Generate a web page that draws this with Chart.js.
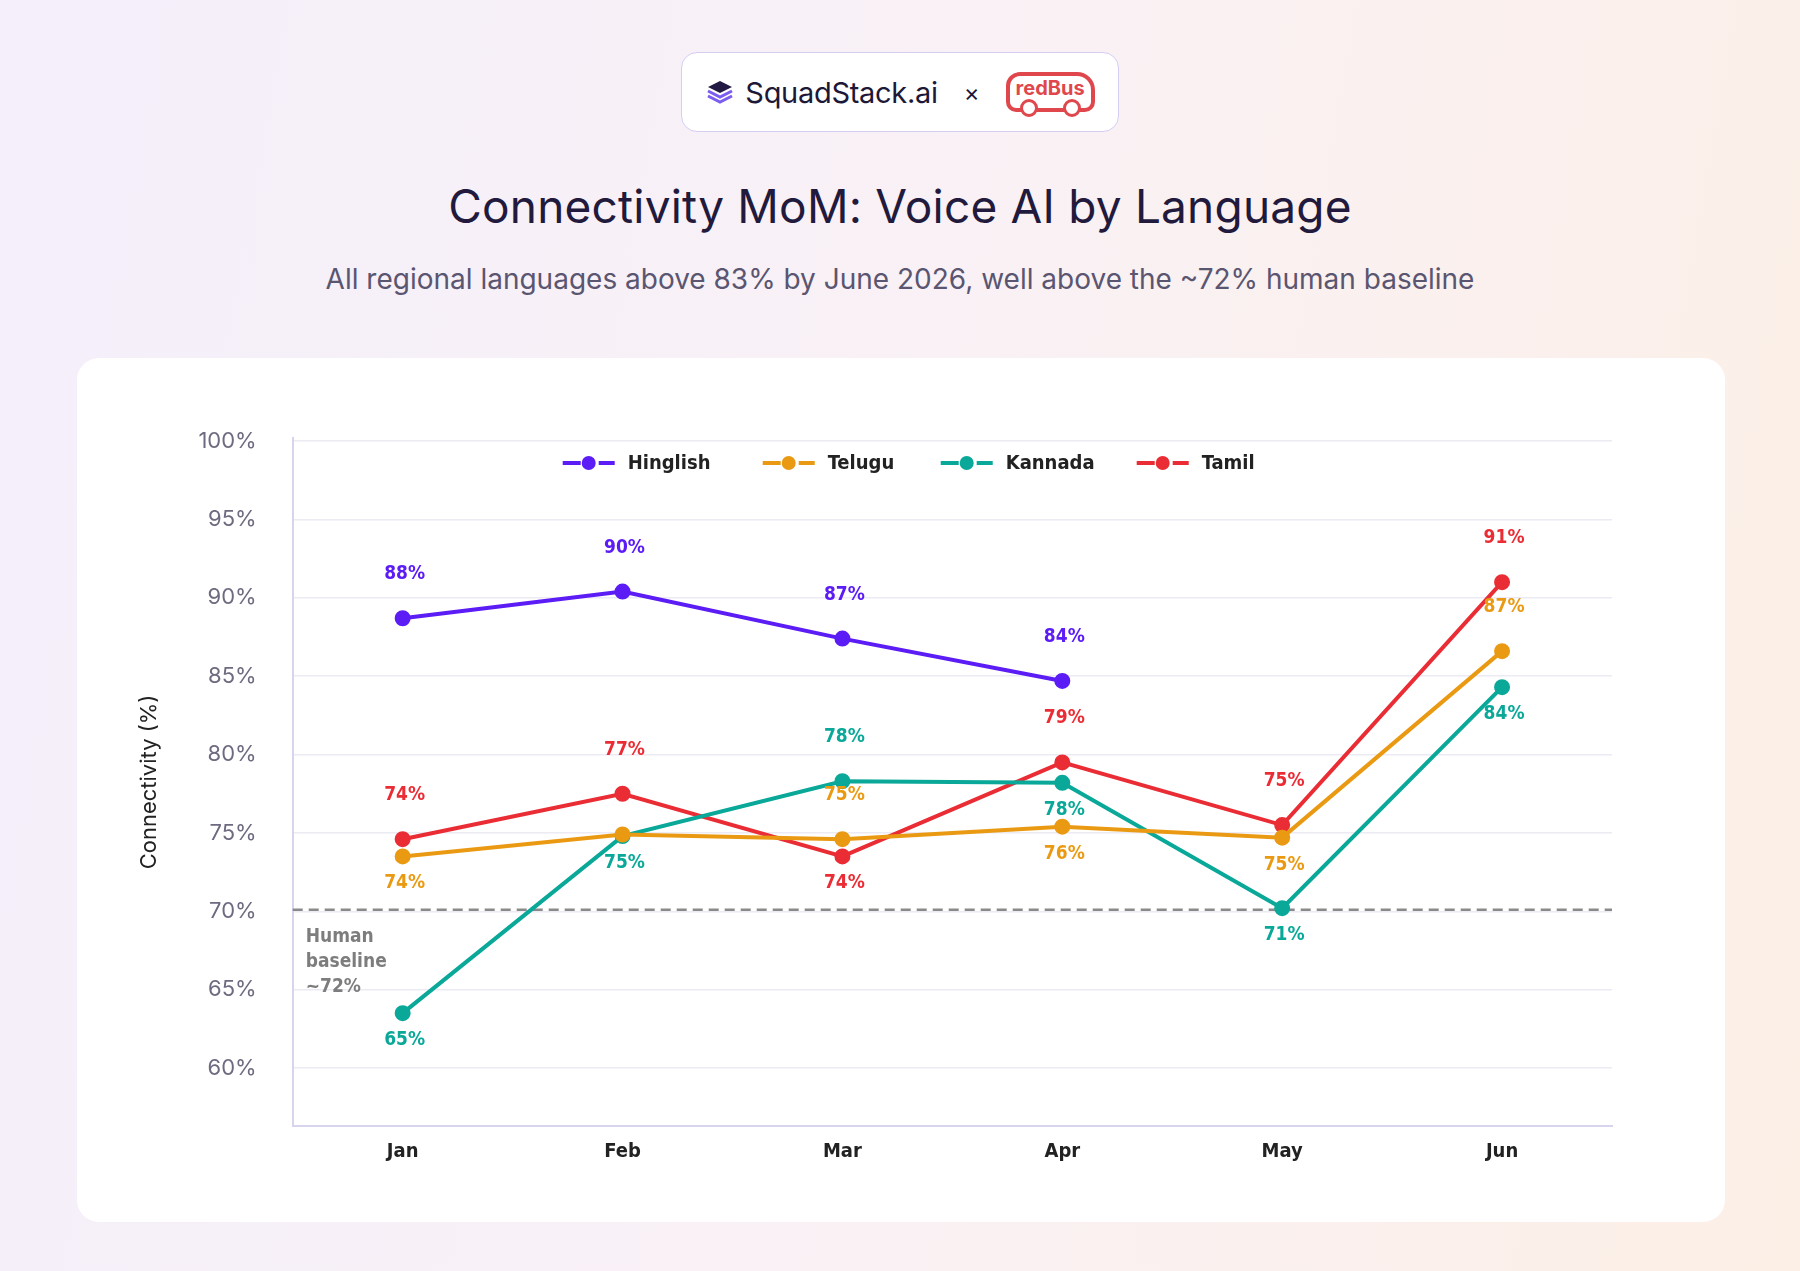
<!DOCTYPE html>
<html><head><meta charset="utf-8">
<script src="https://cdn.jsdelivr.net/npm/chart.js@4.4.1/dist/chart.umd.min.js"></script>
<style>
  html,body{margin:0;padding:0;width:1800px;height:1271px;overflow:hidden;font-family:"Inter","Noto Sans",sans-serif;
    background:linear-gradient(100deg,#f4effb 0%,#f9f1f5 50%,#fcefe6 100%);}
  .badge{position:absolute;left:681px;top:52px;width:436px;height:78px;border:1.5px solid #d6cdf3;border-radius:16px;background:#fff;
    display:flex;align-items:center;justify-content:center;gap:26px;font-size:29px;color:#1d1838;}
  .ss{display:flex;align-items:center;gap:10px;letter-spacing:-0.3px}
  .rb{border:4px solid #e0474c;border-radius:14px 18px 10px 10px;color:#e0474c;font-weight:700;font-size:20px;padding:0 6px 8px 6px;position:relative}
  .rb:after,.rb:before{content:"";position:absolute;bottom:-9px;width:12px;height:12px;border:3px solid #e0474c;border-radius:50%;background:#fff}
  .rb:before{left:10px}.rb:after{right:10px}
  h1{position:absolute;top:178px;left:0;width:1800px;text-align:center;margin:0;font-weight:400;font-size:46px;color:#221a3d;letter-spacing:0.2px}
  .sub{position:absolute;top:262px;left:0;width:1800px;text-align:center;font-size:28px;color:#5a5570}
  .card{position:absolute;left:77px;top:358px;width:1648px;height:864px;background:#fff;border-radius:22px}
  #wrap{position:absolute;left:100px;top:380px;width:1600px;height:820px}
</style></head>
<body>
<div class="badge">
  <div class="ss"><svg width="30" height="30" viewBox="0 0 30 30"><path d="M15 4 L27 10 L15 16 L3 10Z" fill="#231a44"/><path d="M3 14 L15 20 L27 14 M3 19 L15 25 L27 19" fill="none" stroke="#7b5cf0" stroke-width="3"/></svg>SquadStack.ai</div>
  <div style="font-size:24px">×</div>
  <div class="rb">redBus</div>
</div>
<h1>Connectivity MoM: Voice AI by Language</h1>
<div class="sub">All regional languages above 83% by June 2026, well above the ~72% human baseline</div>
<div class="card"></div>
<div id="wrap"><canvas id="c"></canvas></div>
<script>
const months = ['Jan','Feb','Mar','Apr','May','Jun'];
const hinglish = [88.7, 90.4, 87.4, 84.7, null, null];
const telugu   = [73.5, 74.9, 74.6, 75.4, 74.7, 86.6];
const kannada  = [63.5, 74.8, 78.3, 78.2, 70.2, 84.3];
const tamil    = [74.6, 77.5, 73.5, 79.5, 75.5, 91.0];
const hinglishLabels = ['88%','90%','87%','84%','',''];
const teluguLabels   = ['74%','','75%','76%','75%','87%'];
const kannadaLabels  = ['65%','75%','78%','78%','71%','84%'];
const tamilLabels    = ['74%','77%','74%','79%','75%','91%'];
const yTicks = [60,65,70,75,80,85,90,95,100];
const baseline = 70.1;

// label placement: a = above, b = below
const place = {
  Hinglish: ['a','a','a','a','',''],
  Telugu:   ['b','','a','b','b','a'],
  Kannada:  ['b','b','a','b','b','b'],
  Tamil:    ['a','a','b','a','a','a']
};

function ds(label, data, labels, color) {
  return { label, data, labels, borderColor: color, backgroundColor: color, borderWidth: 4,
    pointRadius: 6, pointHoverRadius: 6, tension: 0, spanGaps: false };
}

const extras = {
  id: 'extras',
  beforeDatasetsDraw(chart) {
    const {ctx, chartArea: a, scales: {y}} = chart;
    const yb = y.getPixelForValue(baseline);
    ctx.save();
    ctx.strokeStyle = '#8a8a8a'; ctx.lineWidth = 2.5; ctx.setLineDash([10, 6]);
    ctx.beginPath(); ctx.moveTo(a.left, yb); ctx.lineTo(a.right, yb); ctx.stroke();
    ctx.setLineDash([]);
    ctx.fillStyle = '#7d7d7d'; ctx.font = 'bold 19px "DejaVu Sans Condensed", sans-serif';
    ctx.textBaseline = 'top';
    ['Human', 'baseline', '~72%'].forEach((t, i) => ctx.fillText(t, a.left + 13, yb + 18 + i * 25));
    ctx.restore();
  },
  afterDatasetsDraw(chart) {
    const {ctx, chartArea: a} = chart;
    ctx.save();
    ctx.font = 'bold 19px "DejaVu Sans Condensed", sans-serif';
    ctx.textAlign = 'center';
    chart.data.datasets.forEach((d, di) => {
      const meta = chart.getDatasetMeta(di);
      meta.data.forEach((p, i) => {
        const t = d.labels[i], pos = place[d.label][i];
        if (!t || !pos) return;
        ctx.fillStyle = d.borderColor;
        ctx.textBaseline = 'middle';
        ctx.fillText(t, p.x + 2, pos === 'a' ? p.y - 44 : p.y + 27);
      });
    });
    // legend
    const items = chart.data.datasets;
    const widths = [200, 178, 196, 120];
    let x = a.left + 270;
    const ly = a.top + 25;
    ctx.textAlign = 'left';
    ctx.font = 'bold 20px "DejaVu Sans Condensed", sans-serif';
    items.forEach((d, i) => {
      ctx.strokeStyle = d.borderColor; ctx.fillStyle = d.borderColor; ctx.lineWidth = 4;
      ctx.beginPath(); ctx.moveTo(x, ly); ctx.lineTo(x + 18, ly); ctx.moveTo(x + 36, ly); ctx.lineTo(x + 52, ly); ctx.stroke();
      ctx.beginPath(); ctx.arc(x + 26, ly, 7, 0, Math.PI * 2); ctx.fill();
      ctx.fillStyle = '#222'; ctx.textBaseline = 'middle';
      ctx.fillText(d.label, x + 65, ly + 1);
      x += widths[i];
    });
    ctx.restore();
  }
};

new Chart(document.getElementById('c'), {
  type: 'line',
  data: {
    labels: months,
    datasets: [
      ds('Hinglish', hinglish, hinglishLabels, '#5b1cf5'),
      ds('Telugu', telugu, teluguLabels, '#ea9a12'),
      ds('Kannada', kannada, kannadaLabels, '#0aa898'),
      ds('Tamil', tamil, tamilLabels, '#ea2d35')
    ]
  },
  options: {
    responsive: true, maintainAspectRatio: false, animation: false,
    layout: { padding: { left: 36, right: 88, top: 58, bottom: 30 } },
    plugins: { legend: { display: false }, tooltip: { enabled: false } },
    scales: {
      x: {
        offset: true,
        grid: { display: false },
        border: { color: '#d8d4ee', width: 2 },
        ticks: { color: '#222', font: { size: 20, weight: 'bold', family: '"DejaVu Sans Condensed", sans-serif' }, padding: 6 }
      },
      y: {
        min: 56.3, max: 100.2,
        afterBuildTicks: s => { s.ticks = yTicks.map(v => ({ value: v })); },
        grid: { color: '#ecebf3', lineWidth: 1.5, drawTicks: false },
        border: { color: '#d8d4ee', width: 2 },
        ticks: { color: '#6e6b80', font: { size: 22, family: 'Inter' }, padding: 36, callback: v => v + '%' },
        title: { display: true, text: 'Connectivity (%)', color: '#222', font: { size: 22, family: 'Inter' }, padding: { top: 0, bottom: 0 } }
      }
    }
  },
  plugins: [extras]
});
</script>
</body></html>
